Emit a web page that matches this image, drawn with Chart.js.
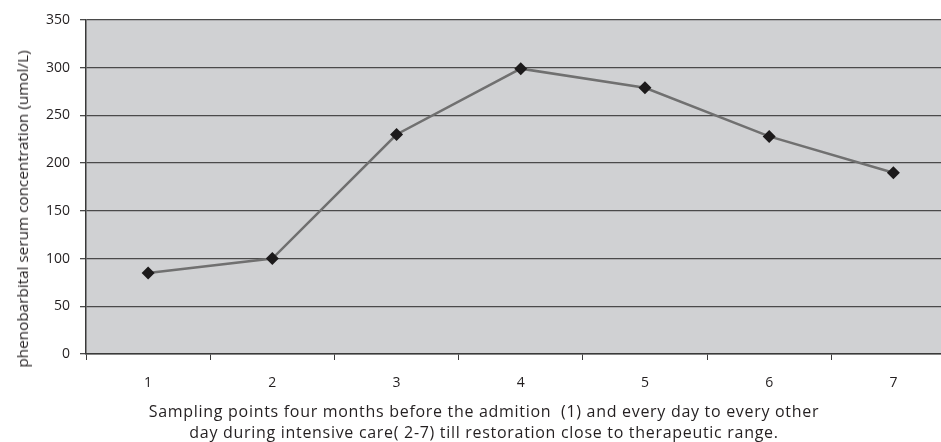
<!DOCTYPE html>
<html>
<head>
<meta charset="utf-8">
<script src="https://cdn.jsdelivr.net/npm/chart.js@4.4.1/dist/chart.umd.min.js"></script>
<style>
  html, body { margin: 0; padding: 0; background: #fff; overflow: hidden; }
  #wrap { position: relative; width: 941px; height: 442px; overflow: hidden; }
  #box { position: absolute; left: 0; top: 0; width: 962px; height: 442px; }
  .label { position: absolute; font-family: 'Open Sans', sans-serif; color: #231f20; white-space: nowrap; }
  #xtitle {
    left: 84px; width: 800px; top: 401px; text-align: center;
    font-size: 16px; letter-spacing: 0.7px; line-height: 20.5px;
  }
  #ytitle {
    left: 22px; top: 209px; font-size: 15.3px; line-height: 18px;
    transform: translate(-50%, -50%) rotate(-90deg);
  }
</style>
</head>
<body>
<div id="wrap">
  <div id="box"><canvas id="chart"></canvas></div>
  <div id="ytitle" class="label">phenobarbital serum concentration (umol/L)</div>
  <div id="xtitle" class="label">Sampling points four months before the admition &nbsp;(1) and every day to every other<br>day during intensive care( 2-7) till restoration close to therapeutic range.</div>
</div>
<script>
const samplingPoints = ['1', '2', '3', '4', '5', '6', '7'];
const concentration = [85, 100, 230, 299, 279, 228, 190];
const yTicks = [0, 50, 100, 150, 200, 250, 300, 350];

const INK = '#231f20';

const plotBackground = {
  id: 'plotBackground',
  beforeDraw(chart) {
    const { ctx, chartArea: a } = chart;
    ctx.save();
    ctx.fillStyle = '#d0d1d3';
    ctx.fillRect(a.left, a.top, a.right - a.left, a.bottom - a.top);
    ctx.restore();
  },
};

new Chart(document.getElementById('chart'), {
  type: 'line',
  data: {
    labels: samplingPoints,
    datasets: [
      {
        data: concentration,
        borderColor: '#707070',
        borderWidth: 2.5,
        pointStyle: 'rectRot',
        pointRadius: 6.5,
        pointBackgroundColor: '#1c1a1b',
        pointBorderColor: '#1c1a1b',
        pointBorderWidth: 0,
        tension: 0,
      },
    ],
  },
  options: {
    responsive: true,
    maintainAspectRatio: false,
    animation: false,
    layout: { padding: { top: 20, right: 0, left: 0, bottom: 0 } },
    plugins: { legend: { display: false }, tooltip: { enabled: false } },
    scales: {
      x: {
        offset: true,
        grid: { offset: true, drawOnChartArea: false, drawTicks: true, tickLength: 6, color: '#3a3a3a' },
        border: { color: '#3a3a3a', width: 1.5 },
        ticks: { color: INK, padding: 15, font: { family: 'Open Sans', size: 14 } },
        afterFit: (s) => { s.height = 88; },
      },
      y: {
        min: 0,
        max: 350,
        afterBuildTicks: (s) => { s.ticks = yTicks.map((v) => ({ value: v })); },
        grid: { color: '#4a4a4a', lineWidth: 1.3, tickLength: 6 },
        border: { color: '#3a3a3a', width: 1.5 },
        ticks: { color: INK, padding: 10, font: { family: 'Open Sans', size: 14 } },
        afterFit: (s) => { s.width = 86; },
      },
    },
  },
  plugins: [plotBackground],
});
</script>
</body>
</html>
